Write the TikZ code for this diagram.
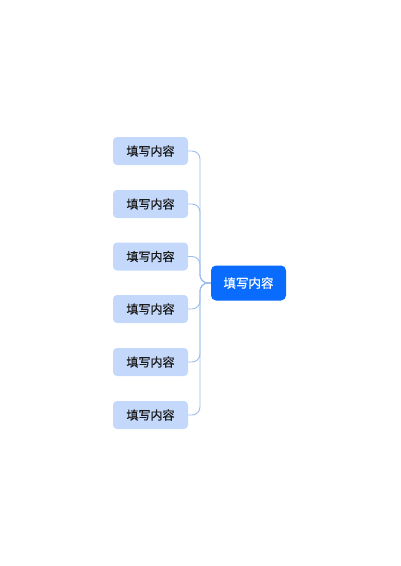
\documentclass[tikz,border=0pt]{standalone}
\usepackage{fontspec}
\newfontfamily\cjk[FakeBold=0.6]{Noto Sans CJK SC}
\definecolor{leafbg}{HTML}{C3D8FA}
\definecolor{rootbg}{HTML}{0A6CFF}
\definecolor{linec}{HTML}{9DBDEC}
\definecolor{txt}{HTML}{1A1A1A}
\tikzset{
  x=1pt,y=-1pt,
  leaf/.style={draw=none,fill=leafbg,rounded corners=4pt,minimum width=75pt,minimum height=28pt,inner sep=0pt,font=\cjk\fontsize{12}{14}\selectfont,text=txt},
  root/.style={draw=none,fill=rootbg,rounded corners=5pt,minimum width=75pt,minimum height=35pt,inner sep=0pt,font=\cjk\fontsize{12.5}{14}\selectfont,text=white},
  conn/.style={draw=linec,line width=0.9pt,rounded corners=8pt}
}
\begin{document}
\begin{tikzpicture}
\useasboundingbox (0,0) rectangle (400,566);
\node[root] (c) at (248.5,283) {填写内容};
\node[leaf] (l1) at (150.5,151) {填写内容};
\node[leaf] (l2) at (150.5,204) {填写内容};
\node[leaf] (l3) at (150.5,256.5) {填写内容};
\node[leaf] (l4) at (150.5,309) {填写内容};
\node[leaf] (l5) at (150.5,362) {填写内容};
\node[leaf] (l6) at (150.5,415) {填写内容};
\coordinate (trunk) at (200,283);
\foreach \i in {1,...,6}{
  \draw[conn] (l\i.east) -| (trunk) -- (c.west);
}
\end{tikzpicture}
\end{document}
